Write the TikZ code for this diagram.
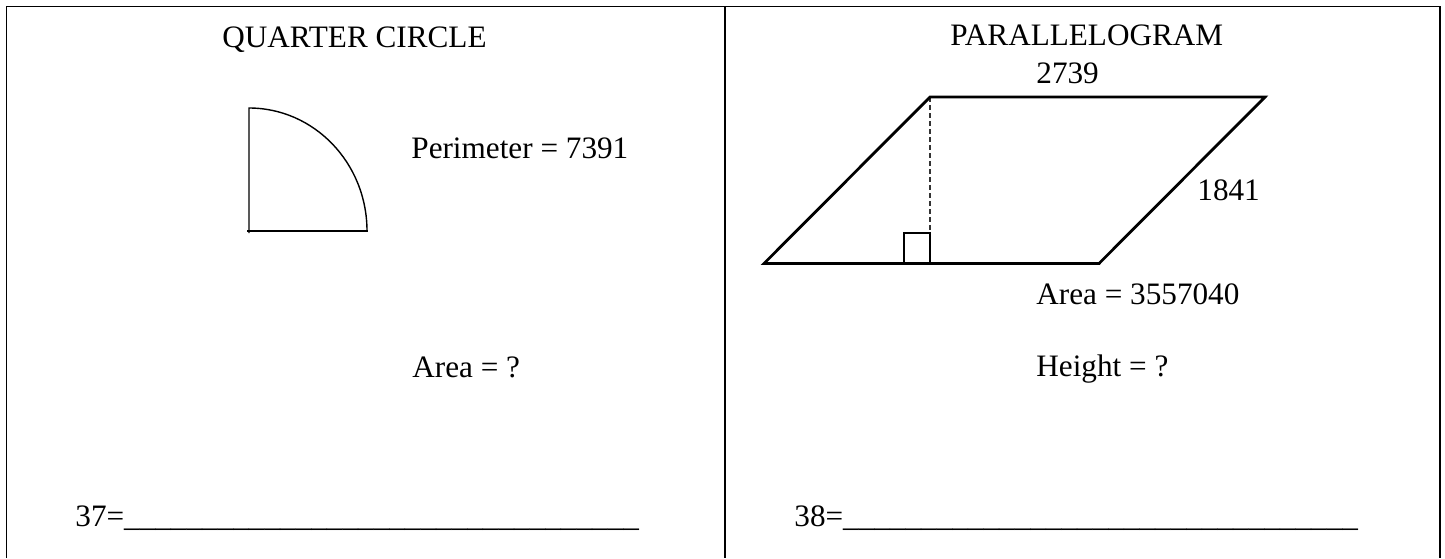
\documentclass[tikz,border=0pt]{standalone}
\usepackage{fontspec}
\setmainfont{Liberation Serif}
\begin{document}
\begin{tikzpicture}[x=0.5pt,y=-0.5pt,
  lbl/.style={anchor=base west,inner sep=0pt,font=\fontsize{15.6}{18}\selectfont},
  frame/.style={line width=0.8pt},
  thin/.style={line width=0.7pt},
  thick/.style={line width=1.4pt,line join=miter},
  hgt/.style={line width=0.6pt,dash pattern=on 2.5pt off 1.5pt,black!80}]
\useasboundingbox (0,0) rectangle (1445,558);
% frame
\draw[frame] (6.5,558) -- (6.5,6.5) -- (1440,6.5) -- (1440,558);
\draw[frame] (725,6.5) -- (725,558);
% left panel
\node[lbl] (t1) at (222,47) {QUARTER CIRCLE};
\coordinate (qc) at (249,231);
\draw[thin] (247,231) -- (368,231);
\draw[thin] (249,233) -- (249,108) arc[start angle=-90,end angle=0,x radius=118,y radius=123];
\node[lbl] (per) at (411,158) {Perimeter = 7391};
\node[lbl] (a1) at (412,377) {Area = ?};
\node[lbl] (q37) at (75,526) {37=\_\_\_\_\_\_\_\_\_\_\_\_\_\_\_\_\_\_\_\_\_\_\_\_\_\_\_\_\_\_\_\_\_};
% right panel
\node[lbl] (t2) at (950,45) {PARALLELOGRAM};
\node[lbl] (top) at (1036,83) {2739};
\coordinate (bl) at (764,263.5);
\coordinate (br) at (1099,263.5);
\coordinate (tl) at (930,97);
\coordinate (tr) at (1265,97);
\coordinate (ft) at (930,233);
\draw[hgt] (tl) -- (ft);
\draw[thick] (bl) -- (br) -- (tr) -- (tl) -- cycle;
\draw[thick] (904,263.5) rectangle (930,233);
\node[lbl] (side) at (1197,200) {1841};
\node[lbl] (ar) at (1036,304) {Area = 3557040};
\node[lbl] (h) at (1036,376) {Height = ?};
\node[lbl] (q38) at (794,526) {38=\_\_\_\_\_\_\_\_\_\_\_\_\_\_\_\_\_\_\_\_\_\_\_\_\_\_\_\_\_\_\_\_\_};
\end{tikzpicture}
\end{document}
